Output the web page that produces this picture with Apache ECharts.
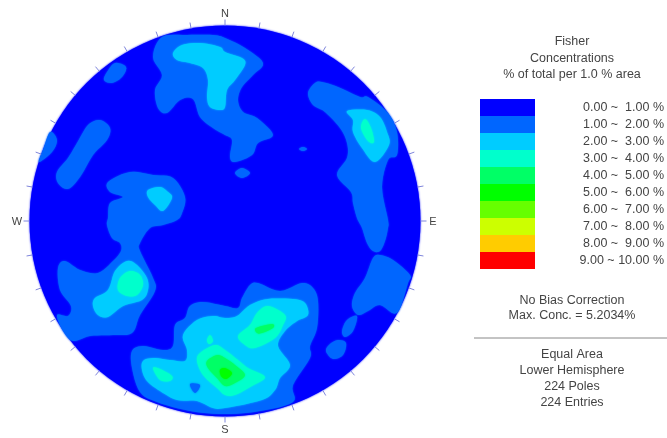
<!DOCTYPE html>
<html>
<head>
<meta charset="utf-8">
<style>
html,body{margin:0;padding:0;background:#fff;overflow:hidden}
#chart{width:667px;height:438px}
</style>
<script src="https://cdn.jsdelivr.net/npm/echarts@6/dist/echarts.min.js"></script>
</head>
<body>
<div id="chart"></div>
<script>
// Stereonet plane coordinates: x east, y north, net radius = 195.5 units.
const netRadius = 195.5;
const azimuths = [0,10,20,30,40,50,60,70,80,90,100,110,120,130,140,150,160,170,180,190,200,210,220,230,240,250,260,270,280,290,300,310,320,330,340,350];
const compass = [['N',0],['E',90],['S',180],['W',270]];

const legendLabels = ['0.00 ~  1.00 %','1.00 ~  2.00 %','2.00 ~  3.00 %','3.00 ~  4.00 %','4.00 ~  5.00 %','5.00 ~  6.00 %','6.00 ~  7.00 %','7.00 ~  8.00 %','8.00 ~  9.00 %','9.00 ~ 10.00 %'];
const legendColors = ['#0000ff','#0066ff','#00ccff','#00ffcc','#00ff66','#00ff00','#66ff00','#ccff00','#ffcc00','#ff0000'];
const legendValues = [1,1,1,1,1,1,1,1,1,1];

const headerLines = ['Fisher','Concentrations','% of total per 1.0 % area'];
const statLines = ['No Bias Correction','Max. Conc. = 5.2034%'];
const netLines = ['Equal Area','Lower Hemisphere','224 Poles','224 Entries'];

// Contour rings by lower class bound (percent).
const contours1 = [
 [[-63,184],[-38,186],[-12,186],[0,183],[20,173],[38,158],[28,146],[17,134],[13,121],[18,109],[32,103],[48,86],[33,78],[27,66],[10,59],[5,64],[7,81],[0,86],[-12,93],[-25,104],[-32,122],[-45,121],[-58,108],[-67,113],[-70,131],[-63,146],[-72,164]],
 [[10,48],[17,53],[25,48],[17,43]],
 [[74,72],[78,74],[82,72],[78,70]],
 [[-110,158],[-99,154],[-103,144],[-113,138],[-121,141],[-118,149]],
 [[-125,101],[-115,93],[-118,81],[-132,66],[-145,44],[-157,32],[-167,38],[-168,49],[-157,63],[-148,78],[-137,96]],
 [[-175,89],[-168,81],[-173,69],[-186,59],[-182,71]],
 [[-117,39],[-95,49],[-72,46],[-52,43],[-40,24],[-43,8],[-48,1],[-62,-4],[-75,-7],[-85,-22],[-85,-30],[-72,-57],[-70,-70],[-85,-94],[-93,-112],[-112,-114],[-135,-115],[-152,-120],[-162,-110],[-168,-94],[-157,-95],[-154,-85],[-165,-69],[-167,-47],[-160,-40],[-145,-49],[-127,-52],[-112,-40],[-104,-30],[-105,-22],[-113,-17],[-118,-4],[-117,3],[-115,18],[-102,24],[-115,29]],
 [[83,128],[90,138],[97,139],[113,134],[135,124],[143,124],[163,108],[172,89],[172,66],[163,61],[157,34],[163,1],[163,-7],[160,-20],[155,-30],[148,-30],[142,-22],[137,-7],[132,3],[128,18],[126,29],[112,46],[122,63],[122,78],[115,93],[100,109],[88,116]],
 [[155,-34],[168,-39],[185,-54],[183,-62],[172,-92],[155,-84],[143,-90],[133,-94],[127,-85],[130,-72],[140,-57],[148,-37]],
 [[132,-95],[128,-110],[120,-116],[117,-110],[122,-99]],
 [[113,-119],[121,-122],[118,-134],[108,-138],[101,-130],[105,-123]],
 [[-93,-130],[-82,-125],[-62,-129],[-52,-125],[-50,-104],[-40,-97],[-35,-85],[-22,-81],[0,-85],[13,-87],[17,-77],[25,-64],[33,-62],[55,-70],[77,-62],[88,-67],[93,-80],[92,-107],[85,-125],[85,-137],[68,-164],[68,-181],[35,-190],[0,-193],[-35,-190],[-68,-181],[-85,-171],[-93,-147]]
];
const contours2 = [
 [[-52,168],[-43,176],[-25,178],[-5,174],[0,169],[17,163],[20,156],[10,141],[2,131],[0,114],[-5,111],[-15,114],[-18,124],[-17,141],[-22,153],[-35,158],[-48,161]],
 [[-77,31],[-65,34],[-57,29],[-53,23],[-62,10],[-70,16],[-77,24]],
 [[-98,-40],[-88,-44],[-78,-57],[-77,-69],[-83,-79],[-102,-85],[-117,-96],[-127,-94],[-132,-85],[-130,-77],[-117,-69],[-110,-50]],
 [[122,110],[142,111],[155,104],[162,89],[164,76],[150,59],[137,73],[128,89],[128,101]],
 [[-82,-140],[-72,-137],[-55,-139],[-40,-140],[-38,-129],[-42,-114],[-28,-99],[-12,-95],[0,-97],[12,-95],[25,-84],[43,-78],[68,-78],[80,-82],[83,-94],[72,-100],[60,-110],[53,-125],[65,-144],[55,-157],[50,-169],[37,-179],[0,-187],[-12,-187],[-28,-180],[-48,-179],[-65,-170],[-78,-160],[-83,-149]]
];
const holes1 = [
 [[-35,-163],[-25,-164],[-30,-172]]
];
const contours3 = [
 [[-95,-50],[-85,-54],[-82,-64],[-88,-74],[-98,-75],[-107,-69],[-105,-57]],
 [[140,102],[146,93],[149,79],[143,80],[136,93]],
 [[-72,-147],[-65,-148],[-53,-155],[-55,-160],[-65,-159]],
 [[-15,-114],[-12,-120],[-16,-123],[-18,-119]],
 [[-25,-132],[-10,-124],[0,-129],[13,-139],[23,-147],[40,-156],[27,-165],[10,-174],[0,-174],[-8,-167],[-22,-154],[-28,-140]],
 [[43,-85],[60,-94],[58,-104],[50,-117],[30,-127],[20,-124],[13,-115],[25,-104],[32,-92]]
];
const contours4 = [
 [[-18,-140],[-8,-134],[0,-137],[10,-144],[20,-154],[10,-162],[0,-165],[-8,-157],[-17,-147]],
 [[31,-107],[47,-103],[48,-107],[37,-112],[32,-112]]
];
const contours5 = [
 [[-5,-149],[0,-147],[7,-152],[3,-157],[0,-158],[-4,-155]]
];

const layers = [
 {rings:contours1,color:legendColors[1]},
 {rings:contours2,color:legendColors[2]},
 {rings:holes1,color:legendColors[1]},
 {rings:contours3,color:legendColors[3]},
 {rings:contours4,color:legendColors[4]},
 {rings:contours5,color:legendColors[5]}
];

const FONT = '"Liberation Sans", Arial, sans-serif';
const TEXT = '#444444';
const ringData = [];
layers.forEach((l,i)=>l.rings.forEach((r,j)=>ringData.push([i,j])));

// Closed Catmull-Rom outline through the read-off vertices, in screen space.
function rounded(pts){
  const out=[],n=pts.length,steps=6;
  for(let i=0;i<n;i++){
    const a=pts[(i-1+n)%n],b=pts[i],c=pts[(i+1)%n],d=pts[(i+2)%n];
    for(let k=0;k<steps;k++){
      const t=k/steps,t2=t*t,t3=t2*t;
      const f=j=>0.5*(2*b[j]+(c[j]-a[j])*t+(2*a[j]-5*b[j]+4*c[j]-d[j])*t2+(3*b[j]-a[j]-3*c[j]+d[j])*t3);
      out.push([f(0),f(1)]);
    }
  }
  return out;
}
function textBlock(lines,ys){
  return lines.map((t,i)=>({type:'text',x:572,y:ys[i],style:{text:t,fill:TEXT,font:'12.5px '+FONT,textAlign:'center',textVerticalAlign:'middle'},silent:true}));
}
const rad = a=>a*Math.PI/180;

const option = {
  animation:false,
  backgroundColor:'#fff',
  grid:[
    {left:29.5,top:25.5,width:391,height:391},
    {left:480,top:99,width:55,height:170}
  ],
  xAxis:[
    {gridIndex:0,type:'value',min:-netRadius,max:netRadius,show:false},
    {gridIndex:1,type:'value',min:0,max:1,show:false}
  ],
  yAxis:[
    {gridIndex:0,type:'value',min:-netRadius,max:netRadius,show:false},
    {gridIndex:1,type:'category',inverse:true,position:'right',data:legendLabels,
     axisLine:{show:false},axisTick:{show:false},
     axisLabel:{margin:129,align:'right',color:TEXT,fontFamily:FONT,fontSize:12.5}}
  ],
  series:[
    {type:'custom',xAxisIndex:0,yAxisIndex:0,silent:true,clip:false,z:1,data:[[0,0]],
     renderItem:(p,api)=>{
       const c=api.coord([0,0]);
       const r=api.size([netRadius,0])[0];
       return {type:'circle',shape:{cx:c[0],cy:c[1],r},style:{fill:legendColors[0],shadowBlur:2,shadowColor:legendColors[0]}};
     }},
    {type:'custom',xAxisIndex:0,yAxisIndex:0,silent:true,clip:false,z:2,data:ringData,
     renderItem:(p,api)=>{
       const l=layers[api.value(0)];
       const ring=l.rings[api.value(1)];
       return {type:'polygon',shape:{points:rounded(ring.map(q=>api.coord(q)))},style:{fill:l.color,shadowBlur:2,shadowColor:l.color}};
     }},
    {type:'custom',xAxisIndex:0,yAxisIndex:0,silent:true,clip:false,z:3,data:azimuths.map(a=>[a]),
     renderItem:(p,api)=>{
       const a=rad(api.value(0));
       const s=Math.sin(a),k=Math.cos(a);
       const p0=api.coord([netRadius*s,netRadius*k]);
       const p1=api.coord([(netRadius+6)*s,(netRadius+6)*k]);
       return {type:'line',shape:{x1:p0[0],y1:p0[1],x2:p1[0],y2:p1[1]},style:{stroke:'#7f86dc',lineWidth:1}};
     }},
    {type:'custom',xAxisIndex:0,yAxisIndex:0,silent:true,clip:false,z:3,data:compass.map(c=>[c[1]]),
     renderItem:(p,api)=>{
       const a=rad(api.value(0));
       const q=api.coord([(netRadius+12.5)*Math.sin(a),(netRadius+12.5)*Math.cos(a)]);
       return {type:'text',x:q[0],y:q[1]+1,style:{text:compass[p.dataIndex][0],fill:TEXT,font:'11px '+FONT,textAlign:'center',textVerticalAlign:'middle'}};
     }},
    {type:'bar',xAxisIndex:1,yAxisIndex:1,silent:true,barWidth:'100%',
     data:legendValues.map((v,i)=>({value:v,itemStyle:{color:legendColors[i]}}))}
  ],
  graphic:[
    ...textBlock(headerLines,[42,59,75]),
    ...textBlock(statLines,[301,316]),
    ...textBlock(netLines,[355,371,387,403]),
    {type:'line',shape:{x1:474,y1:338,x2:667,y2:338},style:{stroke:'#888888',lineWidth:1},silent:true}
  ]
};
const chart = echarts.init(document.getElementById('chart'),null,{renderer:'canvas',width:667,height:438});
chart.setOption(option);
</script>
</body>
</html>
